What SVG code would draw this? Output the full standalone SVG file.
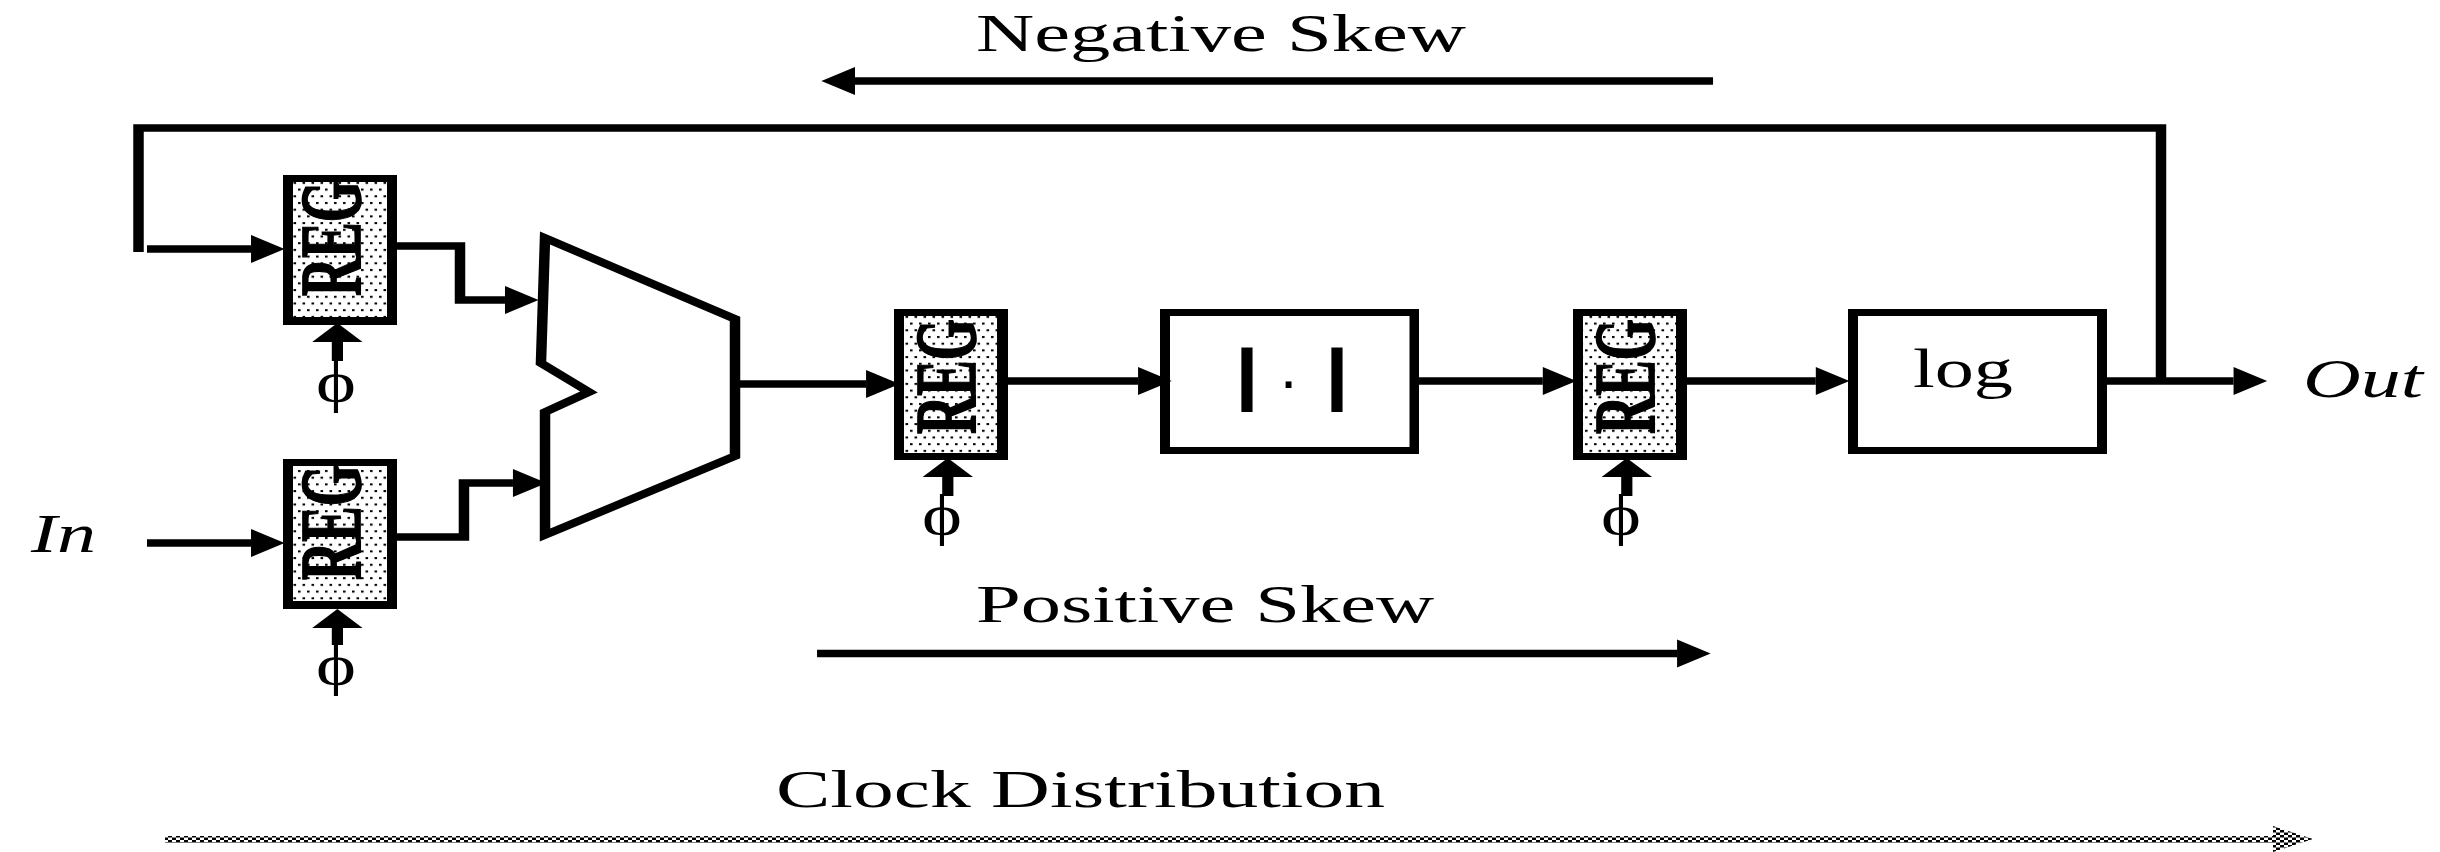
<svg xmlns="http://www.w3.org/2000/svg" width="2440" height="852" viewBox="0 0 2440 852">
<style>
text{font-family:"Liberation Serif","Times New Roman",serif;fill:#000}
.c{fill:none;stroke:#000;stroke-width:7.5}
.a{marker-end:url(#h)}
.u{stroke-width:8;marker-end:url(#v)}
.lbl{font-size:52px}
.reg{font-size:60px;font-weight:bold;stroke:#000;stroke-width:1.2px}
.phi{font-size:56px}
.it{font-size:54px;font-style:italic}
</style>
<defs>
<marker id="h" markerUnits="userSpaceOnUse" markerWidth="24" markerHeight="28" refX="0" refY="14" orient="auto" overflow="visible"><path d="M0 0L24 14L0 28Z"/></marker>
<marker id="v" markerUnits="userSpaceOnUse" markerWidth="19" markerHeight="36" refX="0" refY="18" orient="auto" overflow="visible"><path d="M0 0L19 18L0 36Z"/></marker>
<pattern id="dots" patternUnits="userSpaceOnUse" width="9" height="13.4"><rect width="9" height="13.4" fill="#fff"/><rect x="1" y="1" width="2.6" height="2"/><rect x="5.5" y="7.7" width="2.6" height="2"/></pattern>
<pattern id="check" patternUnits="userSpaceOnUse" width="8" height="5"><rect width="8" height="5" fill="#fff"/><rect width="4" height="2.5"/><rect x="4" y="2.5" width="4" height="2.5"/></pattern>
</defs>
<rect width="2440" height="852" fill="#fff"/>
<g id="reg1"><rect x="283" y="175" width="114" height="150"/><rect x="293" y="182" width="94" height="135" fill="url(#dots)"/><text class="reg" transform="translate(360 296) scale(1.45 1) rotate(-90)" textLength="115" lengthAdjust="spacingAndGlyphs">REG</text></g>
<g id="reg2"><rect x="283" y="459" width="114" height="150"/><rect x="293" y="466" width="94" height="135" fill="url(#dots)"/><text class="reg" transform="translate(360 580) scale(1.45 1) rotate(-90)" textLength="115" lengthAdjust="spacingAndGlyphs">REG</text></g>
<g id="reg3"><rect x="894" y="309" width="114" height="151"/><rect x="904" y="316" width="93" height="137" fill="url(#dots)"/><text class="reg" transform="translate(975 434) scale(1.45 1) rotate(-90)" textLength="115" lengthAdjust="spacingAndGlyphs">REG</text></g>
<g id="reg4"><rect x="1573" y="309" width="114" height="151"/><rect x="1583" y="316" width="93" height="137" fill="url(#dots)"/><text class="reg" transform="translate(1654 434) scale(1.45 1) rotate(-90)" textLength="115" lengthAdjust="spacingAndGlyphs">REG</text></g>
<g id="mux"><path transform="scale(1.4 1)" fill="#fff" stroke="#000" stroke-width="7.5" d="M389.3 238L525 319V456L389.3 535V412L420.7 392L386.4 363Z"/></g>
<g id="abs"><rect x="1160" y="309" width="259" height="145"/><rect x="1170" y="316" width="239.5" height="131" fill="#fff"/><text font-size="64" font-weight="bold" text-anchor="middle" style="font-family:'Liberation Sans',sans-serif"><tspan x="1247" y="396" stroke="#000" stroke-width="3">|</tspan><tspan x="1288.5" y="401" font-weight="normal" font-size="62">·</tspan><tspan x="1337" y="396" stroke="#000" stroke-width="3">|</tspan></text></g>
<g id="log"><rect x="1848" y="309" width="259" height="145"/><rect x="1858" y="316" width="239" height="131" fill="#fff"/><text x="1913" y="387" font-size="54" textLength="100" lengthAdjust="spacingAndGlyphs">log</text></g>
<g id="connectors">
<g transform="scale(1.4 1)">
<path class="c" d="M98.93 252V128H1543.57V381"/>
<path class="c a" d="M105 249H179.3"/>
<path class="c a" d="M105 543H179.3"/>
<path class="c a" d="M283.57 246H328.57V300H360.7"/>
<path class="c a" d="M283.57 537H331.4V483H366.4"/>
<path class="c a" d="M525 384H618.6"/>
<path class="c a" d="M720 381H812.9"/>
<path class="c a" d="M1013.6 381H1102"/>
<path class="c a" d="M1205 381H1297"/>
<path class="c a" d="M1505 381H1595.4"/>
<path class="c u" d="M241 361V342"/>
<path class="c u" d="M241 645V628"/>
<path class="c u" d="M677 496V477"/>
<path class="c u" d="M1162 496V477"/>
<path class="c a" d="M1223.6 81H610.7"/>
<path class="c a" d="M583.6 653.5H1197.9"/>
</g>
<path id="clock-arrow" fill="url(#check)" d="M165 836H2273V826L2313 839L2273 852V843H165Z"/>
</g>
<g id="labels">
<text class="phi" x="316" y="401" textLength="40" lengthAdjust="spacingAndGlyphs">ϕ</text>
<text class="phi" x="316" y="684" textLength="40" lengthAdjust="spacingAndGlyphs">ϕ</text>
<text class="phi" x="922" y="534" textLength="40" lengthAdjust="spacingAndGlyphs">ϕ</text>
<text class="phi" x="1601" y="534" textLength="40" lengthAdjust="spacingAndGlyphs">ϕ</text>
<text class="it" x="31" y="552" textLength="65" lengthAdjust="spacingAndGlyphs">In</text>
<text class="it" x="2303" y="397" textLength="120" lengthAdjust="spacingAndGlyphs">Out</text>
<text class="lbl" x="976" y="51" textLength="490" lengthAdjust="spacingAndGlyphs">Negative Skew</text>
<text class="lbl" x="976" y="622" textLength="458" lengthAdjust="spacingAndGlyphs">Positive Skew</text>
<text class="lbl" x="776" y="807" textLength="609" lengthAdjust="spacingAndGlyphs">Clock Distribution</text>
</g>
</svg>
